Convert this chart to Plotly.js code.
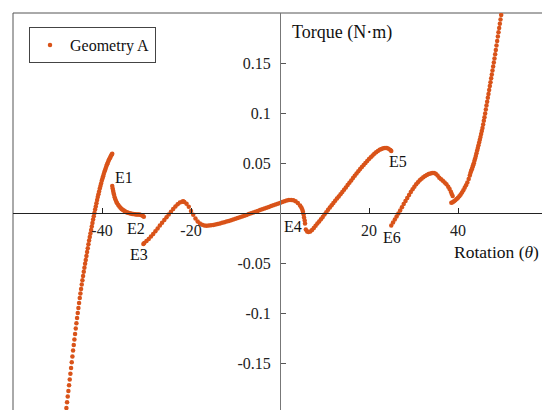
<!DOCTYPE html>
<html><head><meta charset="utf-8">
<script src="https://cdn.plot.ly/plotly-3.0.1.min.js"></script>
<style>html,body{margin:0;padding:0;overflow:hidden;background:#fff;width:542px;height:410px}#chart{width:548px;height:414px}</style>
</head><body><div id="chart"></div>
<script>
const seriesName = "Geometry A";

// [rotation (deg), torque (N·m)] pairs, one list per branch
const branchLeft = [
[-48.15,-0.2007],[-48.0,-0.1950],[-47.85,-0.1893],[-47.7,-0.1836],[-47.55,-0.1779],[-47.4,-0.1722],
[-47.25,-0.1665],[-47.1,-0.1608],[-46.95,-0.1551],[-46.8,-0.1492],[-46.65,-0.1434],[-46.5,-0.1375],
[-46.35,-0.1320],[-46.2,-0.1264],[-46.05,-0.1209],[-45.9,-0.1155],[-45.75,-0.1103],[-45.6,-0.1050],
[-45.45,-0.0999],[-45.3,-0.0949],[-45.15,-0.0900],[-45.0,-0.0850],[-44.85,-0.0805],[-44.7,-0.0760],
[-44.55,-0.0715],[-44.4,-0.0672],[-44.25,-0.0630],[-44.1,-0.0588],[-43.95,-0.0547],[-43.8,-0.0508],
[-43.65,-0.0469],[-43.5,-0.0430],[-43.35,-0.0391],[-43.2,-0.0352],[-43.05,-0.0313],[-42.9,-0.0276],
[-42.75,-0.0240],[-42.6,-0.0204],[-42.45,-0.0169],[-42.3,-0.0134],[-42.15,-0.0100],[-42.0,-0.0065],
[-41.85,-0.0032],[-41.7,0.0001],[-41.55,0.0034],[-41.4,0.0066],[-41.25,0.0098],[-41.1,0.0129],
[-40.95,0.0160],[-40.8,0.0187],[-40.65,0.0216],[-40.5,0.0245],[-40.35,0.0271],[-40.2,0.0296],
[-40.05,0.0322],[-39.9,0.0345],[-39.75,0.0368],[-39.6,0.0390],[-39.45,0.0412],[-39.3,0.0431],
[-39.15,0.0451],[-39.0,0.0470],[-38.85,0.0487],[-38.7,0.0503],[-38.55,0.0520],[-38.4,0.0534],
[-38.25,0.0548],[-38.1,0.0561],[-37.95,0.0574],[-37.8,0.0585],[-37.7,0.0592]
];
const branchE1E2 = [
[-37.7,0.0270],[-37.6,0.0245],[-37.5,0.0222],[-37.4,0.0201],[-37.3,0.0182],[-37.15,0.0158],
[-37.0,0.0138],[-36.8,0.0116],[-36.6,0.0098],[-36.35,0.0080],[-36.1,0.0065],[-35.85,0.0052],
[-35.6,0.0041],[-35.35,0.0032],[-35.1,0.0024],[-34.85,0.0017],[-34.6,0.0011],[-34.35,0.0006],
[-34.1,0.0002],[-33.8,-0.0002],[-33.5,-0.0006],[-33.2,-0.0009],[-32.9,-0.0011],[-32.6,-0.0013],
[-32.3,-0.0014],[-32.0,-0.0015],[-31.7,-0.0016],[-31.4,-0.0018],[-31.1,-0.0022],[-30.85,-0.0028],
[-30.6,-0.0038]
];
const branchE3E4 = [
[-30.7,-0.0310],[-30.5,-0.0300],[-30.0,-0.0280],[-29.5,-0.0260],[-29.0,-0.0235],[-28.5,-0.0210],
[-28.0,-0.0183],[-27.5,-0.0155],[-27.0,-0.0125],[-26.5,-0.0097],[-26.0,-0.0070],[-25.5,-0.0042],
[-25.0,-0.0015],[-24.5,0.0012],[-24.0,0.0040],[-23.5,0.0065],[-23.0,0.0088],[-22.5,0.0104],
[-22.0,0.0112],[-21.75,0.0118],[-21.5,0.0110],[-21.0,0.0092],[-20.5,0.0062],[-20.0,0.0021],
[-19.5,-0.0017],[-19.0,-0.0055],[-18.5,-0.0085],[-18.0,-0.0105],[-17.5,-0.0118],[-17.0,-0.0125],
[-16.5,-0.0127],[-16.0,-0.0126],[-15.5,-0.0123],[-15.0,-0.0119],[-14.5,-0.0114],[-14.0,-0.0109],
[-13.5,-0.0104],[-13.0,-0.0098],[-12.5,-0.0092],[-12.0,-0.0086],[-11.5,-0.0079],[-11.0,-0.0072],
[-10.5,-0.0065],[-10.0,-0.0058],[-9.5,-0.0050],[-9.0,-0.0043],[-8.5,-0.0035],[-8.0,-0.0027],
[-7.5,-0.0019],[-7.0,-0.0011],[-6.5,-0.0003],[-6.0,0.0005],[-5.5,0.0013],[-5.0,0.0021],
[-4.5,0.0029],[-4.0,0.0037],[-3.5,0.0045],[-3.0,0.0053],[-2.5,0.0061],[-2.0,0.0069],
[-1.5,0.0077],[-1.0,0.0085],[-0.5,0.0093],[0.0,0.0101],[0.5,0.0109],[1.0,0.0117],
[1.5,0.0124],[2.0,0.0129],[2.5,0.0130],[3.0,0.0128],[3.5,0.0118],[4.0,0.0100],
[4.5,0.0075],[4.8,0.0055],[5.0,0.0035],[5.15,0.0012],[5.3,-0.0015],[5.4,-0.0045]
];
const branchE4E5 = [
[5.55,-0.0075],[5.62,-0.0105],[5.8,-0.0165],[6.1,-0.0185],[6.4,-0.0190],[6.8,-0.0185],
[7.2,-0.0170],[7.6,-0.0150],[8.0,-0.0127],[8.4,-0.0105],[8.8,-0.0085],[9.2,-0.0063],
[9.6,-0.0040],[10.0,-0.0015],[10.4,0.0008],[10.8,0.0032],[11.2,0.0055],[11.6,0.0078],
[12.0,0.0100],[12.4,0.0122],[12.8,0.0144],[13.2,0.0166],[13.6,0.0188],[14.0,0.0210],
[14.4,0.0233],[14.8,0.0256],[15.2,0.0280],[15.6,0.0303],[16.0,0.0326],[16.4,0.0350],
[16.8,0.0373],[17.2,0.0396],[17.6,0.0418],[18.0,0.0440],[18.4,0.0460],[18.8,0.0480],
[19.2,0.0500],[19.6,0.0520],[20.0,0.0540],[20.4,0.0558],[20.8,0.0575],[21.2,0.0592],
[21.6,0.0607],[22.0,0.0620],[22.4,0.0632],[22.8,0.0641],[23.2,0.0647],[23.6,0.0650],
[24.0,0.0649],[24.4,0.0643],[24.8,0.0630],[25.0,0.0620]
];
const branchE6 = [
[25.0,-0.0125],[25.4,-0.0095],[25.8,-0.0065],[26.2,-0.0035],[26.6,-0.0005],[27.0,0.0025],
[27.4,0.0057],[27.8,0.0089],[28.2,0.0120],[28.6,0.0150],[29.0,0.0180],[29.4,0.0210],
[29.8,0.0238],[30.2,0.0263],[30.6,0.0287],[31.0,0.0308],[31.4,0.0327],[31.8,0.0343],
[32.2,0.0357],[32.6,0.0369],[33.0,0.0380],[33.4,0.0389],[33.8,0.0396],[34.2,0.0400],
[34.6,0.0400],[35.0,0.0393],[35.4,0.0375],[35.8,0.0353],[36.2,0.0337],[36.6,0.0322],
[37.0,0.0305],[37.4,0.0287],[37.8,0.0262],[38.1,0.0240],[38.4,0.0213],[38.6,0.0190],
[38.8,0.0170]
];
const branchRight = [
[38.5,0.0103],[38.8,0.0108],[39.1,0.0117],[39.4,0.0127],[39.7,0.0139],[40.0,0.0153],
[40.3,0.0168],[40.6,0.0185],[40.9,0.0205],[41.2,0.0228],[41.5,0.0252],[41.8,0.0278],
[42.1,0.0306],[42.4,0.0340],[42.65,0.0375],[42.8,0.0400],[42.95,0.0420],[43.1,0.0438],
[43.25,0.0458],[43.4,0.0477],[43.55,0.0498],[43.7,0.0522],[43.85,0.0546],[44.0,0.0570],
[44.15,0.0597],[44.3,0.0624],[44.45,0.0651],[44.6,0.0678],[44.75,0.0705],[44.9,0.0732],
[45.05,0.0760],[45.2,0.0790],[45.35,0.0820],[45.5,0.0850],[45.65,0.0886],[45.8,0.0922],
[45.95,0.0958],[46.1,0.0996],[46.25,0.1035],[46.4,0.1074],[46.55,0.1113],[46.7,0.1152],
[46.85,0.1191],[47.0,0.1230],[47.15,0.1269],[47.3,0.1308],[47.45,0.1347],[47.6,0.1386],
[47.75,0.1425],[47.9,0.1464],[48.05,0.1504],[48.2,0.1546],[48.35,0.1588],[48.5,0.1630],
[48.65,0.1675],[48.8,0.1720],[48.95,0.1765],[49.1,0.1808],[49.25,0.1850],[49.4,0.1892],
[49.55,0.1935],[49.7,0.1980],[49.85,0.2025]
];

const xTickVals = [-40, -20, 20, 40];
const xTickText = ["-40", "-20", "20", "40"];
const yTickVals = [-0.15, -0.1, -0.05, 0.05, 0.1, 0.15];
const yTickText = ["-0.15", "-0.1", "-0.05", "0.05", "0.1", "0.15"];
const eventNames = ["E1", "E2", "E3", "E4", "E5", "E6"];
const xTitle = "Rotation (<i>θ</i>)";
const yTitle = "Torque (N·m)";

const all = [].concat(branchLeft, branchE1E2, branchE3E4, branchE4E5, branchE6, branchRight);
const trace = {
  type: 'scatter', mode: 'markers', name: seriesName,
  x: all.map(p => p[0]), y: all.map(p => p[1]),
  marker: {color: '#D95319', size: 4.5, line: {width: 0}},
  cliponaxis: true
};

const FONT = "'Liberation Serif', 'Times New Roman', serif";
const evPos = [[-35.06,0.0355],[-32.43,-0.015],[-31.69,-0.041],[2.92,-0.013],[26.52,0.052],[25.06,-0.0245]];
const annotations = eventNames.map((t, i) => ({
  text: t, x: evPos[i][0], y: evPos[i][1], xref: 'x', yref: 'y',
  showarrow: false, font: {family: FONT, size: 16, color: '#111'}
}));
annotations.push({text: yTitle, x: 13.93, y: 0.181, xref: 'x', yref: 'y', showarrow: false,
  font: {family: FONT, size: 18, color: '#111'}});
annotations.push({text: xTitle, x: 48.6, y: -0.0385, xref: 'x', yref: 'y', showarrow: false,
  font: {family: FONT, size: 17.5, color: '#111'}});

const layout = {
  width: 548, height: 414,
  margin: {l: 13, r: 1, t: 13, b: 1, pad: 0},
  paper_bgcolor: '#fff', plot_bgcolor: '#fff',
  font: {family: FONT, size: 16, color: '#222'},
  showlegend: true,
  legend: {x: 0.0300, y: 0.965, xanchor: 'left', yanchor: 'top', bgcolor: '#fff',
    bordercolor: '#444', borderwidth: 1, font: {family: FONT, size: 16, color: '#111'}},
  xaxis: {range: [-60, 60], anchor: 'free', position: 0.5, showline: true, linecolor: '#222',
    linewidth: 1, ticks: 'inside', ticklen: 5, tickcolor: '#222', tickvals: xTickVals,
    ticktext: xTickText, ticklabelstandoff: 3, showgrid: false, zeroline: false,
    tickfont: {family: FONT, size: 16, color: '#222'}},
  yaxis: {range: [-0.2, 0.2], anchor: 'free', position: 0.5, showline: true, linecolor: '#777',
    linewidth: 1, ticks: 'inside', ticklen: 5, tickcolor: '#555', tickvals: yTickVals,
    ticktext: yTickText, ticklabelstandoff: 6, showgrid: false, zeroline: false,
    tickfont: {family: FONT, size: 16, color: '#222'}},
  shapes: [{type: 'rect', xref: 'paper', yref: 'paper', x0: 0, x1: 1, y0: 0, y1: 1,
    line: {color: '#555', width: 1}, layer: 'below'}],
  annotations: annotations
};
Plotly.newPlot('chart', [trace], layout, {staticPlot: true, displayModeBar: false});
</script></body></html>
